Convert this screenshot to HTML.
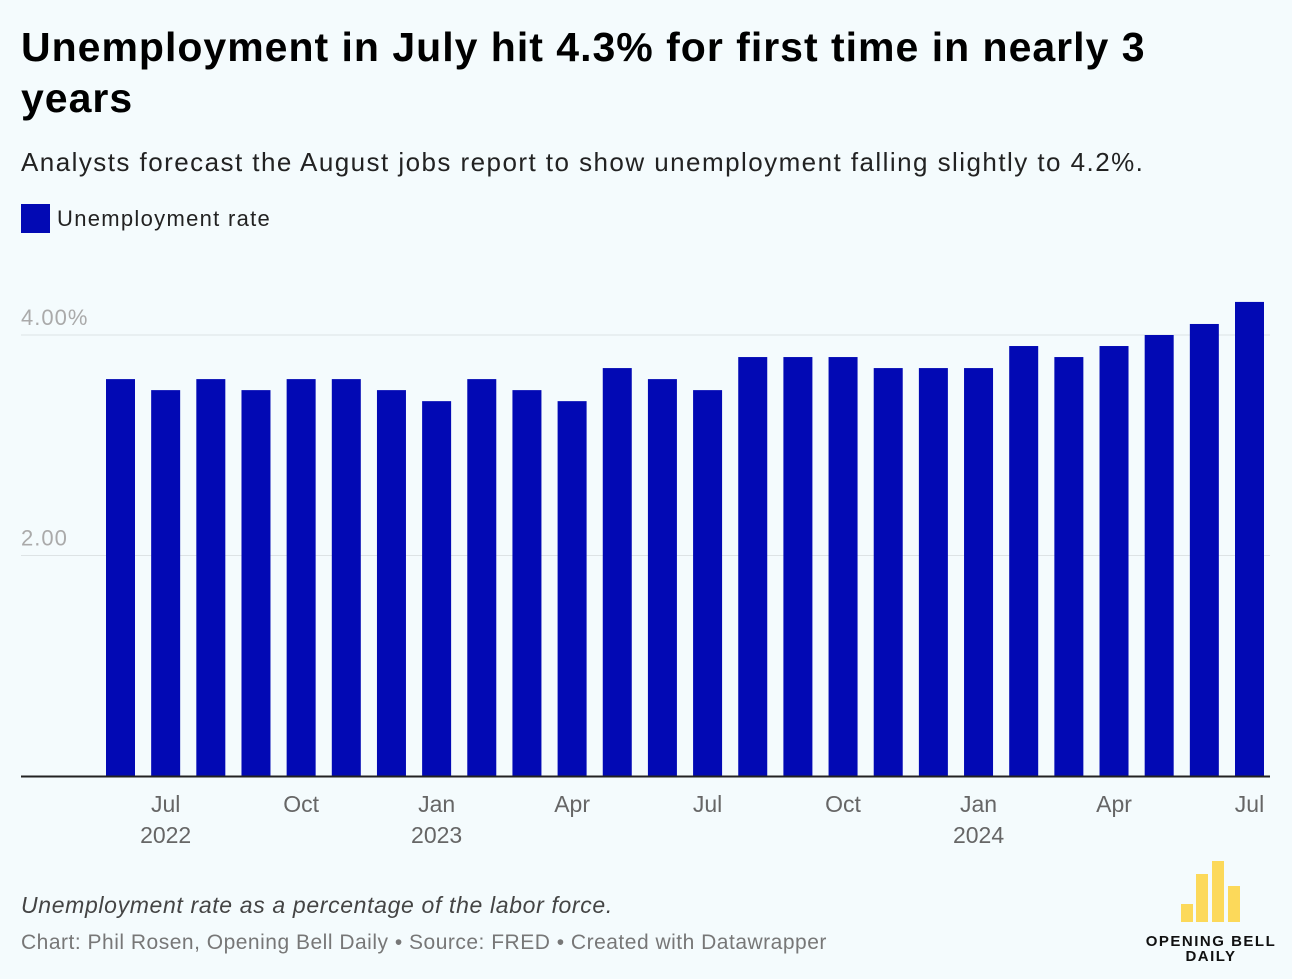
<!DOCTYPE html>
<html><head><meta charset="utf-8"><style>
body{margin:0;width:1292px;height:979px;background:#f4fbfd;font-family:"Liberation Sans",sans-serif;position:relative;overflow:hidden}
.t{position:absolute;margin:0}
</style></head><body>
<h1 class="t" style="left:21px;top:22px;font-size:41px;line-height:51px;font-weight:bold;color:#000;width:1180px;letter-spacing:1px">Unemployment in July hit 4.3% for first time in nearly 3 years</h1>
<p class="t" style="left:21px;top:147px;font-size:26px;color:#222;letter-spacing:1.45px;white-space:nowrap">Analysts forecast the August jobs report to show unemployment falling slightly to 4.2%.</p>
<div class="t" style="left:21px;top:204px;font-size:22px;color:#222;display:flex;align-items:center;letter-spacing:1.3px"><span style="display:inline-block;width:29px;height:29px;background:#0209b4;margin-right:7px"></span>Unemployment rate</div>
<svg id="c" width="1292" height="979" style="position:absolute;left:0;top:0"></svg>
<p class="t" style="left:21px;top:892px;font-size:23px;font-style:italic;color:#444;letter-spacing:0.65px;white-space:nowrap">Unemployment rate as a percentage of the labor force.</p>
<p class="t" style="left:21px;top:931px;font-size:21px;color:#777;letter-spacing:0.5px;white-space:nowrap">Chart: Phil Rosen, Opening Bell Daily • Source: FRED • Created with Datawrapper</p>
<div class="t" style="left:1130px;top:850px;width:162px;height:125px">
<div style="position:absolute;left:51px;top:54px;width:12px;height:18px;background:#fcd95a"></div>
<div style="position:absolute;left:66px;top:24px;width:12px;height:48px;background:#fcd95a"></div>
<div style="position:absolute;left:82px;top:11px;width:12px;height:61px;background:#fcd95a"></div>
<div style="position:absolute;left:98px;top:36px;width:12px;height:36px;background:#fcd95a"></div>
<div style="position:absolute;left:0;top:84px;width:162px;text-align:center;font-weight:bold;font-size:15px;line-height:15px;letter-spacing:1.5px;color:#111">OPENING BELL<br>DAILY</div>
</div>
<script>
const values=[3.6,3.5,3.6,3.5,3.6,3.6,3.5,3.4,3.6,3.5,3.4,3.7,3.6,3.5,3.8,3.8,3.8,3.7,3.7,3.7,3.9,3.8,3.9,4.0,4.1,4.3];
const tickIdx=[1,4,7,10,13,16,19,22,25];
const tickLabels=["Jul","Oct","Jan","Apr","Jul","Oct","Jan","Apr","Jul"];
const yearLabels=["2022","","2023","","","","2024","",""];
const yTicks=[2,4];
const yTickLabels=["2.00","4.00%"];
const svg=document.getElementById('c');const NS='http://www.w3.org/2000/svg';
const y=v=>776-v*110.25;const x=i=>120.5+i*45.16;
function mk(t,a,txt){const e=document.createElementNS(NS,t);for(const k in a)e.setAttribute(k,a[k]);if(txt!==undefined)e.textContent=txt;svg.appendChild(e);return e;}
yTicks.forEach((v,i)=>{
const g=mk('line',{x1:21,x2:1270,y1:y(v),y2:y(v),stroke:'#dde3e5','stroke-width':1});


const t=mk('text',{x:21,y:y(v)-10,'font-size':22,fill:'#aaa','font-family':'Liberation Sans','letter-spacing':1},yTickLabels[i]);


});
values.forEach((v,i)=>{
const r=mk('rect',{x:x(i)-14.5,y:y(v),width:29,height:776-y(v),fill:'#0209b4'});


});
const ax=mk('line',{x1:21,x2:1270,y1:776.5,y2:776.5,stroke:'#222','stroke-width':2});


tickIdx.forEach((ix,i)=>{
const t=mk('text',{x:x(ix),y:812,'font-size':23,fill:'#666','text-anchor':'middle','font-family':'Liberation Sans'},tickLabels[i]);


if(yearLabels[i]){const yl=mk('text',{x:x(ix),y:843,'font-size':23,fill:'#666','text-anchor':'middle','font-family':'Liberation Sans'},yearLabels[i]);

}
});
</script>
</body></html>
